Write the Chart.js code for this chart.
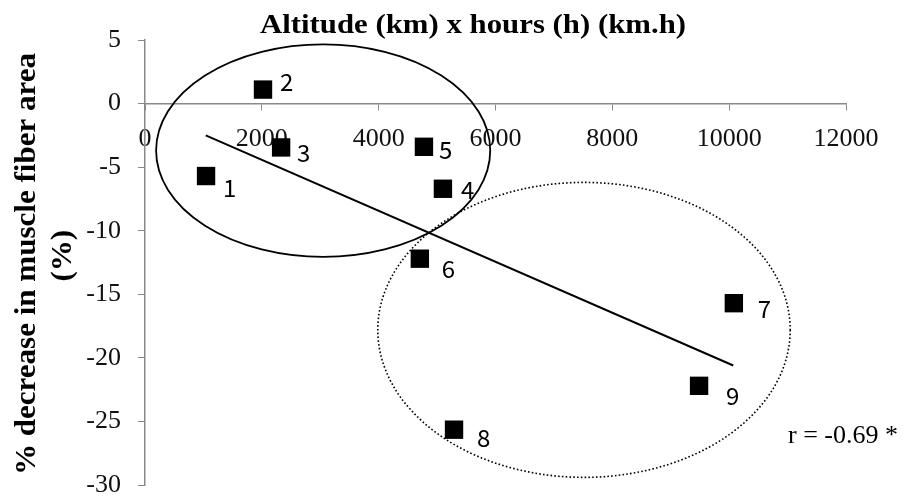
<!DOCTYPE html>
<html>
<head>
<meta charset="utf-8">
<script src="https://cdn.jsdelivr.net/npm/chart.js@4"></script>
<style>
  html, body { margin: 0; padding: 0; background: #fff; }
  #wrap { width: 903px; height: 498px; }
</style>
</head>
<body>
<div id="wrap"><canvas id="chart" width="903" height="498"></canvas></div>
<script>
// --- Data ---
const pointLabels = ["1", "2", "3", "4", "5", "6", "7", "8", "9"];
const kmHours = [1045, 2020, 2330, 5100, 4775, 4705, 10080, 5290, 9485];
const fiberDecrease = [-5.7, 1.1, -3.45, -6.7, -3.4, -12.2, -15.7, -25.65, -22.2];

// trend line end points
const trendX = [1040, 10070];
const trendY = [-2.5, -20.6];

// ellipses marking the two groups: [centerX, centerY, radiusX, radiusY]
const groupA = [3050, -3.7, 2860, 8.35];
const groupB = [7515, -17.8, 3530, 11.6];

const xTicks = [0, 2000, 4000, 6000, 8000, 10000, 12000];
const yTicks = [5, 0, -5, -10, -15, -20, -25, -30];

const xTitle = "Altitude (km) x hours (h) (km.h)";
const yTitle = ["% decrease in muscle fiber area", "(%)"];
const rText = "r = -0.69 *";

// how far each number label sits from its square (px), as placed in the original
const labelNudge = [[17, 12], [17, -8], [16, 5], [18, 1], [15, 3], [22, 10], [24, 6], [23, 8], [27, 10]];

const AXIS_GRAY = "#898989";
const SERIF = "'Liberation Serif', 'Times New Roman', serif";

// --- Extra drawing: ellipses, point numbers, titles ---
const overlay = {
    id: "overlay",
    afterDatasetsDraw(chart) {
        const { ctx, scales: { x, y } } = chart;

        const ellipse = (e, dashed) => {
            const cx = x.getPixelForValue(e[0]);
            const cy = y.getPixelForValue(e[1]);
            const rx = x.getPixelForValue(e[0] + e[2]) - cx;
            const ry = cy - y.getPixelForValue(e[1] + e[3]);
            ctx.save();
            ctx.beginPath();
            ctx.ellipse(cx, cy, rx, ry, 0, 0, Math.PI * 2);
            ctx.strokeStyle = "#000";
            if (dashed) {
                ctx.lineWidth = 1.6;
                ctx.setLineDash([1.6, 2.2]);
            } else {
                ctx.lineWidth = 1.8;
            }
            ctx.stroke();
            ctx.restore();
        };
        ellipse(groupA, false);
        ellipse(groupB, true);

        // numbers next to each point
        const meta = chart.getDatasetMeta(0);
        ctx.save();
        ctx.fillStyle = "#000";
        ctx.font = "24px 'Noto Sans CJK KR', 'DejaVu Sans', sans-serif";
        ctx.textAlign = "left";
        ctx.textBaseline = "middle";
        meta.data.forEach((pt, i) => {
            const [dx, dy] = labelNudge[i];
            ctx.fillText(pointLabels[i], pt.x + dx, pt.y + dy);
        });
        ctx.restore();
    },
    afterDraw(chart) {
        const { ctx } = chart;
        ctx.save();
        ctx.fillStyle = "#000";
        ctx.font = "bold 28px " + SERIF;
        ctx.textAlign = "center";
        ctx.textBaseline = "alphabetic";
        ctx.translate(473, 33);
        ctx.scale(1.1, 1);
        ctx.fillText(xTitle, 0, 0);
        ctx.restore();

        ctx.save();
        ctx.fillStyle = "#000";
        ctx.textAlign = "center";
        ctx.translate(0, 264);
        ctx.rotate(-Math.PI / 2);
        ctx.scale(1.035, 1);
        ctx.font = "bold 30px " + SERIF;
        ctx.fillText(yTitle[0], 0, 35);
        ctx.fillText(yTitle[1], 8, 71);
        ctx.restore();

        ctx.save();
        ctx.fillStyle = "#000";
        ctx.font = "26px " + SERIF;
        ctx.textAlign = "left";
        ctx.fillText(rText, 788, 443);
        ctx.restore();
    }
};

const ctx = document.getElementById("chart").getContext("2d");

new Chart(ctx, {
    type: "scatter",
    data: {
        datasets: [
            {
                label: "points",
                data: kmHours.map((v, i) => ({ x: v, y: fiberDecrease[i] })),
                pointStyle: "rect",
                pointRadius: 13,
                pointHoverRadius: 13,
                backgroundColor: "#000",
                borderColor: "#000",
                borderWidth: 0
            },
            {
                type: "line",
                label: "trend",
                data: trendX.map((v, i) => ({ x: v, y: trendY[i] })),
                borderColor: "#000",
                borderWidth: 2,
                pointRadius: 0,
                fill: false
            }
        ]
    },
    options: {
        responsive: false,
        animation: false,
        events: [],
        layout: { padding: { left: 0, right: 57, top: 40, bottom: 11 } },
        plugins: { legend: { display: false }, tooltip: { enabled: false } },
        scales: {
            x: {
                type: "linear",
                position: { y: 0 },
                min: 0,
                max: 12000,
                afterBuildTicks: (s) => { s.ticks = xTicks.map(v => ({ value: v })); },
                afterFit: (s) => { s.height = 0; s.paddingLeft = 0; s.paddingRight = 0; },
                grid: { display: true, drawOnChartArea: false, drawTicks: true, tickLength: 6, color: AXIS_GRAY },
                border: { display: true, color: AXIS_GRAY, width: 1.5 },
                ticks: {
                    color: "#111",
                    font: { family: SERIF, size: 26 },
                    padding: 14,
                    maxRotation: 0,
                    autoSkip: false,
                    callback: (v) => String(v)
                }
            },
            y: {
                type: "linear",
                position: "left",
                min: -30,
                max: 5,
                afterBuildTicks: (s) => { s.ticks = yTicks.map(v => ({ value: v })); },
                afterFit: (s) => { s.width = 145; s.paddingTop = 0; s.paddingBottom = 0; },
                grid: { display: true, drawOnChartArea: false, drawTicks: true, tickLength: 7, color: AXIS_GRAY },
                border: { display: true, color: AXIS_GRAY, width: 1.5 },
                ticks: {
                    color: "#111",
                    font: { family: SERIF, size: 26 },
                    padding: 17,
                    autoSkip: false,
                    callback: (v) => String(v)
                }
            }
        }
    },
    plugins: [overlay]
});
</script>
</body>
</html>
